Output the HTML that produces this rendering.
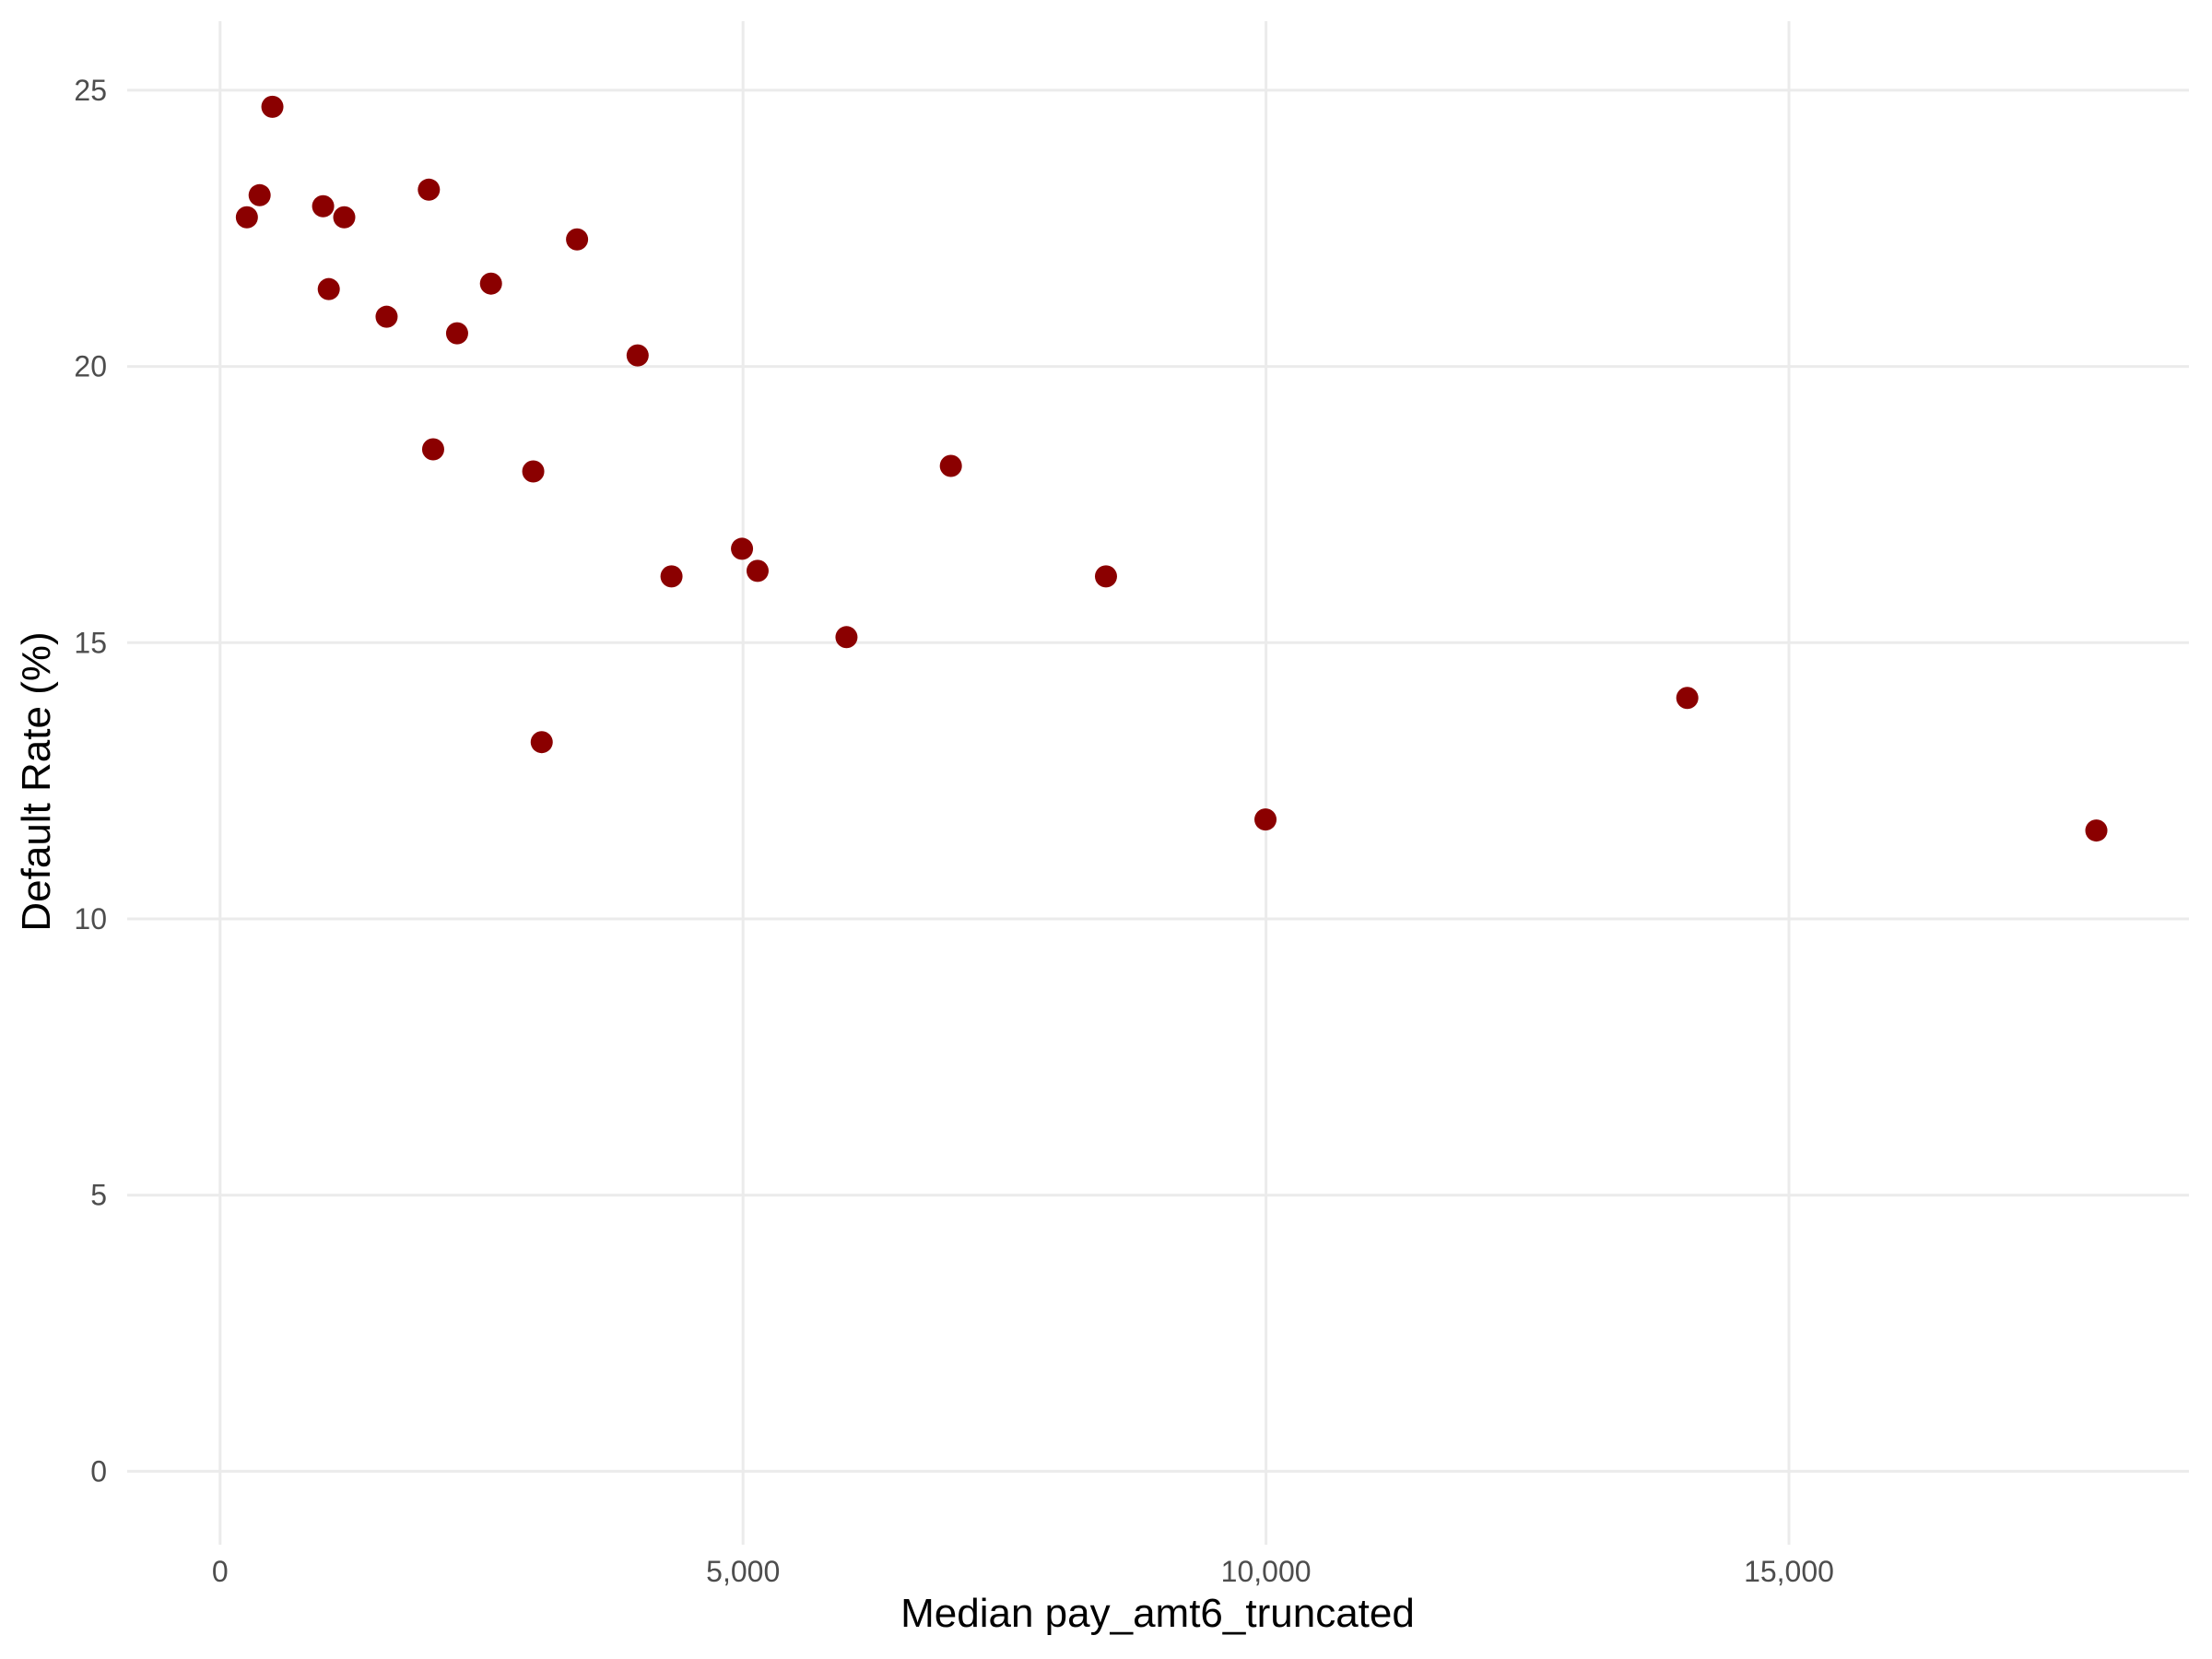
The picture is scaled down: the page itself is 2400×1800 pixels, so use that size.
<!DOCTYPE html>
<html><head><meta charset="utf-8"><style>
html,body{margin:0;padding:0;background:#fff;}
svg{display:block;font-family:"Liberation Sans",Arial,sans-serif;}
</style></head><body>
<svg id="chart" width="2400" height="1800" viewBox="0 0 2400 1800">
<rect width="2400" height="1800" fill="#fff"/>
<g id="grid"></g>
<g id="xticks"></g>
<g id="yticks"></g>
<g id="points"></g>
<text x="1256" y="1765" text-anchor="middle" font-size="44" fill="#000">Median pay_amt6_truncated</text>
<text transform="translate(54,848) rotate(-90)" text-anchor="middle" font-size="44" fill="#000">Default Rate (%)</text>
</svg>
<script>
const xValues = [256,378,500,985,1187,1039,1592,1996,2037,2266,2590,2994,3075,3413,3992,4316,4990,5139,5989,6987,8470,9995,14028,17939];
const yValues = [22.7,23.1,24.7,22.9,22.7,21.4,20.9,23.2,18.5,20.6,21.5,18.1,13.2,22.3,20.2,16.2,16.7,16.3,15.1,18.2,16.2,11.8,14.0,11.6];
const xTicks = [0,5000,10000,15000];
const xTickLabels = ["0","5,000","10,000","15,000"];
const yTicks = [0,5,10,15,20,25];
const yTickLabels = ["0","5","10","15","20","25"];

const NS = "http://www.w3.org/2000/svg";
const PL = 138, PR = 2375, PT = 23, PB = 1676;
function xs(v){ return 238.8 + v * (567.4/5000); }
function ys(v){ return 1596.4 - v * (299.7/5); }
function mk(tag, attrs, parent){
  const e = document.createElementNS(NS, tag);
  for (const k in attrs) e.setAttribute(k, attrs[k]);
  parent.appendChild(e);
  return e;
}
const grid = document.getElementById('grid');
const xg = document.getElementById('xticks');
const yg = document.getElementById('yticks');
const pg = document.getElementById('points');
xTicks.forEach((t,i)=>{
  const l = mk('line',{x1:xs(t),x2:xs(t),y1:PT,y2:PB,stroke:'#EBEBEB','stroke-width':3},grid);
  
  
  const tx = mk('text',{x:xs(t),y:1716,'text-anchor':'middle','font-size':32,fill:'#4D4D4D'},xg);
  tx.textContent = xTickLabels[i];
  
  
});
yTicks.forEach((t,i)=>{
  const l = mk('line',{x1:PL,x2:PR,y1:ys(t),y2:ys(t),stroke:'#EBEBEB','stroke-width':3},grid);
  
  
  const tx = mk('text',{x:116,y:ys(t)+11,'text-anchor':'end','font-size':32,fill:'#4D4D4D'},yg);
  tx.textContent = yTickLabels[i];
  
  
});
xValues.forEach((v,i)=>{
  const c = mk('circle',{cx:xs(v),cy:ys(yValues[i]),r:12,fill:'#8B0000'},pg);
  
  
});
</script>
</body></html>
